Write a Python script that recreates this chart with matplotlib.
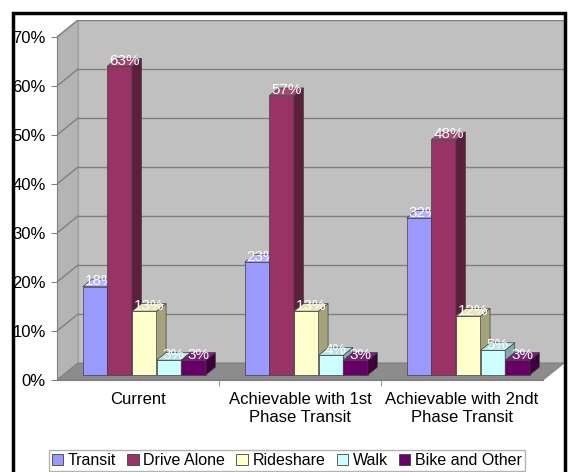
import numpy as np
import matplotlib
matplotlib.use("Agg")
import matplotlib.pyplot as plt
from matplotlib.patches import Polygon, Rectangle, Patch

plt.rcParams['font.family'] = ['Liberation Sans', 'DejaVu Sans']

# data
categories = ['Current', 'Achievable with 1st\nPhase Transit', 'Achievable with 2ndt\nPhase Transit']
modes = ['Transit', 'Drive Alone', 'Rideshare', 'Walk', 'Bike and Other']
transit = [18, 23, 32]
drive_alone = [63, 57, 48]
rideshare = [13, 13, 12]
walk = [3, 4, 5]
bike_other = [3, 3, 3]
series = [transit, drive_alone, rideshare, walk, bike_other]

front_colors = ['#9999FF', '#993366', '#FFFFCC', '#CCFFFF', '#660066']
side_colors = ['#6B6BB3', '#5C1F3D', '#A3A37E', '#86A8A8', '#3D003D']
top_colors = ['#B3B3FF', '#A34670', '#E6E6B8', '#B8E6E6', '#7A1F7A']

# fake 3d depth (data units)
sx, sy = 0.13, 3.47
f0, f1 = 0.30, 0.75
d = f1 - f0
w = 0.152
ymax = 70

fig = plt.figure(figsize=(5.69, 4.72), dpi=100)
ax = fig.add_axes([57/569, 92/472, 507/569, 360/472])
ax.set_xlim(-0.5, 2.5 + sx)
ax.set_ylim(0, ymax + sy)
ax.patch.set_alpha(0)

# walls and floor
ax.add_patch(Rectangle((-0.5 + sx, sy), 3.0, ymax, facecolor='#C0C0C0',
                       edgecolor='#A0A0A0', lw=0.8, zorder=0))
ax.add_patch(Polygon([(-0.5, 0), (-0.5 + sx, sy), (-0.5 + sx, ymax + sy), (-0.5, ymax)],
                     closed=True, facecolor='#B4B4B4', edgecolor='#A0A0A0', lw=0.8, zorder=0))
ax.add_patch(Polygon([(-0.5, 0), (2.5, 0), (2.5 + sx, sy), (-0.5 + sx, sy)],
                     closed=True, facecolor='#8C8C8C', edgecolor='#808080', lw=0.8, zorder=0.5))
for g in range(10, ymax + 1, 10):
    ax.plot([-0.5 + sx, 2.5 + sx], [g + sy, g + sy], color='#808080', lw=1.0, zorder=0.3)
    ax.plot([-0.5, -0.5 + sx], [g, g + sy], color='#808080', lw=1.0, zorder=0.3)

# bars
x = np.arange(len(categories))
z = 2
for i in range(len(categories)):
    for k, vals in enumerate(series):
        v = vals[i]
        xl = x[i] + (k - 2.5) * w + f0 * sx
        xr = xl + w
        b = f0 * sy
        ax.bar(xl, v, width=w, bottom=b, align='edge', color=front_colors[k],
               edgecolor='#404040', lw=0.5, zorder=z)
        ax.add_patch(Polygon([(xr, b), (xr + d * sx, b + d * sy), (xr + d * sx, b + d * sy + v), (xr, b + v)],
                             closed=True, facecolor=side_colors[k], edgecolor='#404040', lw=0.5, zorder=z))
        ax.add_patch(Polygon([(xl, b + v), (xr, b + v), (xr + d * sx, b + v + d * sy), (xl + d * sx, b + v + d * sy)],
                             closed=True, facecolor=top_colors[k], edgecolor='#404040', lw=0.5, zorder=z))
        ax.text(xl + w / 2 + d * sx / 2, b + v + d * sy / 2 + 0.3, '%d%%' % v,
                color='white', fontsize=11, ha='center', va='center', zorder=z + 0.5)
        z += 1

# axes
for s in ['top', 'right']:
    ax.spines[s].set_visible(False)
ax.spines['left'].set_position(('data', -0.5))
ax.spines['left'].set_bounds(0, ymax)
ax.spines['left'].set_color('#808080')
ax.spines['bottom'].set_bounds(-0.5, 2.5)
ax.spines['bottom'].set_color('#808080')
ax.set_yticks(range(0, ymax + 1, 10))
ax.set_yticklabels(['%d%%' % t for t in range(0, ymax + 1, 10)])
ax.tick_params(axis='y', length=4, color='#808080', pad=4, labelsize=12)
ax.set_xticks(x)
ax.set_xticklabels(categories)
ax.tick_params(axis='x', length=0, pad=9, labelsize=12)
ax.set_xticks([0.5, 1.5], minor=True)
ax.tick_params(axis='x', which='minor', length=4, color='#808080')

handles = [Patch(facecolor=c, edgecolor='#404040', lw=0.6) for c in front_colors]
fig.legend(handles, modes, loc='upper center', bbox_to_anchor=(0.504, 22/472), ncol=5,
           fontsize=11.5, frameon=True, fancybox=False, edgecolor='#A0A0A0',
           handlelength=0.7, handleheight=0.7, handletextpad=0.3, columnspacing=0.7,
           borderpad=0.2, borderaxespad=0)

fig.add_artist(Rectangle((13/569, -0.05), 552/569, 1.05 - 13/472, transform=fig.transFigure,
                         fill=False, edgecolor='black', lw=2.5))

fig.savefig('out.png', dpi=100)
